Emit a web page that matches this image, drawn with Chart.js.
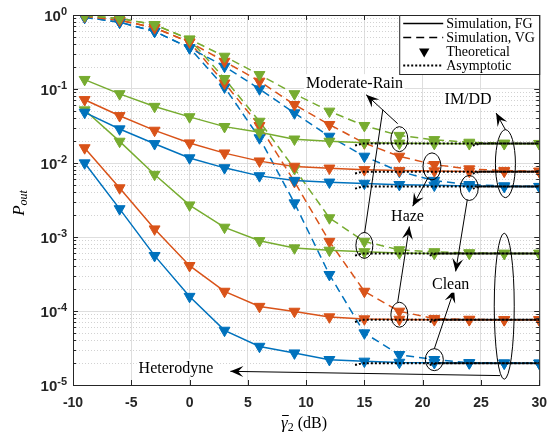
<!DOCTYPE html>
<html>
<head>
<meta charset="utf-8">
<script src="https://cdn.jsdelivr.net/npm/chart.js@4.4.0/dist/chart.umd.min.js"></script>
<style>
  html, body { margin: 0; padding: 0; background: #fff; }
  #wrap { width: 557px; height: 435px; }
</style>
</head>
<body>
<div id="wrap"><canvas id="chart" width="557" height="435"></canvas></div>
<script>
// average SNR of the second hop (dB)
const snr = [-9, -6, -3, 0, 3, 6, 9, 12, 15, 18, 21, 24, 27, 30];

// IM/DD, fixed gain (solid)
const imddFgClean = [0.0483, 0.0288, 0.0182, 0.0117, 0.0086, 0.0067, 0.0058, 0.0055, 0.0053, 0.0051, 0.0050, 0.0049, 0.0048, 0.0048];
const imddFgHaze  = [0.0716, 0.0435, 0.0276, 0.0186, 0.0136, 0.0106, 0.0090, 0.0085, 0.0081, 0.0079, 0.0078, 0.0077, 0.0077, 0.0077];
const imddFgRain  = [0.134, 0.086, 0.058, 0.042, 0.031, 0.026, 0.021, 0.0196, 0.0188, 0.0185, 0.0183, 0.0182, 0.0182, 0.0182];
// IM/DD, variable gain (dashed)
const imddVgClean = [0.93, 0.80, 0.60, 0.36, 0.202, 0.100, 0.0474, 0.0229, 0.0123, 0.0077, 0.0058, 0.0051, 0.0049, 0.0048];
const imddVgHaze  = [0.96, 0.85, 0.67, 0.43, 0.236, 0.127, 0.0614, 0.033, 0.0186, 0.0123, 0.0095, 0.0083, 0.0079, 0.0077];
const imddVgRain  = [0.98, 0.90, 0.74, 0.47, 0.276, 0.156, 0.086, 0.050, 0.032, 0.0235, 0.0206, 0.0190, 0.0185, 0.0183];
// heterodyne, fixed gain (solid)
const hetFgClean = [0.0100, 0.0024, 0.00056, 0.000157, 0.0000547, 0.0000332, 0.000027, 0.000022, 0.0000209, 0.0000202, 0.00002, 0.0000198, 0.0000197, 0.0000197];
const hetFgHaze  = [0.016, 0.0046, 0.00128, 0.00041, 0.000184, 0.000115, 0.0000988, 0.000083, 0.000078, 0.000077, 0.000076, 0.000076, 0.000076, 0.000076];
const hetFgRain  = [0.052, 0.0196, 0.0070, 0.0027, 0.00135, 0.00089, 0.00071, 0.00066, 0.00063, 0.00061, 0.0006, 0.0006, 0.0006, 0.0006];
// heterodyne, variable gain (dashed)
const hetVgClean = [0.93, 0.80, 0.60, 0.36, 0.106, 0.0218, 0.00288, 0.00031, 0.0000504, 0.0000257, 0.000022, 0.00002, 0.0000198, 0.0000197];
const hetVgHaze  = [0.96, 0.85, 0.67, 0.43, 0.120, 0.0319, 0.0056, 0.00087, 0.000184, 0.000099, 0.000079, 0.000077, 0.000076, 0.000076];
const hetVgRain  = [0.98, 0.90, 0.74, 0.47, 0.138, 0.0365, 0.0084, 0.00181, 0.00087, 0.00067, 0.00063, 0.00061, 0.0006, 0.0006];

// asymptotic curves (high SNR)
const asymFgX     = [14.2, 14.8, 30];
const asymImddVgX = [24.3, 24.9, 30];
const asymHetVgX  = [20.6, 21.2, 30];
const asymImddClean = [0.0045, 0.0048, 0.0048];
const asymImddHaze  = [0.0072, 0.0076, 0.0076];
const asymImddRain  = [0.0172, 0.0183, 0.0183];
const asymHetClean  = [0.0000186, 0.0000196, 0.0000196];
const asymHetHaze   = [0.000071, 0.000076, 0.000076];
const asymHetRain   = [0.00056, 0.0006, 0.0006];

const xTicks = [-10, -5, 0, 5, 10, 15, 20, 25, 30];
const yDecades = [-5, -4, -3, -2, -1, 0];

const BLUE = "#0072BD", ORANGE = "#D95319", GREEN = "#77AC30";
const AXIS = "#262626";

function pts(xs, ys) { return xs.map((x, i) => ({ x, y: ys[i] })); }

function simLine(data, color, dashed) {
  return {
    data: pts(snr, data), borderColor: color, backgroundColor: color,
    borderWidth: 1.5, borderDash: dashed ? [8, 5] : [], pointRadius: 0, order: 3
  };
}
function theory(data, color) {
  return {
    data: pts(snr, data), showLine: false, borderColor: color, backgroundColor: color,
    pointStyle: "triangle", rotation: 180, pointRadius: 6.3, pointBorderWidth: 1, order: 2
  };
}
function asym(xs, ys) {
  return {
    data: pts(xs, ys), borderColor: "#000", borderWidth: 2, borderDash: [2, 2],
    pointRadius: 0, order: 1
  };
}

const datasets = [
  asym(asymFgX, asymImddRain), asym(asymImddVgX, asymImddRain),
  asym(asymFgX, asymImddHaze), asym(asymImddVgX, asymImddHaze),
  asym(asymFgX, asymImddClean), asym(asymImddVgX, asymImddClean),
  asym(asymFgX, asymHetRain), asym(asymHetVgX, asymHetRain),
  asym(asymFgX, asymHetHaze), asym(asymHetVgX, asymHetHaze),
  asym(asymFgX, asymHetClean), asym(asymHetVgX, asymHetClean),

  theory(imddVgRain, GREEN), theory(imddFgRain, GREEN),
  theory(imddVgHaze, ORANGE), theory(imddFgHaze, ORANGE),
  theory(imddVgClean, BLUE), theory(imddFgClean, BLUE),
  theory(hetVgRain, GREEN), theory(hetFgRain, GREEN),
  theory(hetVgHaze, ORANGE), theory(hetFgHaze, ORANGE),
  theory(hetVgClean, BLUE), theory(hetFgClean, BLUE),

  simLine(imddFgRain, GREEN, false), simLine(imddVgRain, GREEN, true),
  simLine(imddFgHaze, ORANGE, false), simLine(imddVgHaze, ORANGE, true),
  simLine(imddFgClean, BLUE, false), simLine(imddVgClean, BLUE, true),
  simLine(hetFgRain, GREEN, false), simLine(hetVgRain, GREEN, true),
  simLine(hetFgHaze, ORANGE, false), simLine(hetVgHaze, ORANGE, true),
  simLine(hetFgClean, BLUE, false), simLine(hetVgClean, BLUE, true)
];

// ellipses [x, y, rx(px), ry(px)], text labels and arrows [tail x, tail y, head x, head y]
const ellipses = [
  [18, 0.021, 8.5, 12.5], [15, 0.00077, 8.5, 13],
  [20.8, 0.0090, 9, 13.5], [18, 0.000089, 8.5, 12.5],
  [24, 0.0046, 9, 12.5], [21, 0.000022, 9, 11],
  [27.1, 0.0098, 10, 34], [27, 0.000116, 10, 73]
];
const labels = [
  ["Moderate-Rain", 14.15, 0.12], ["IM/DD", 23.9, 0.073], ["Haze", 18.7, 0.00194],
  ["Clean", 22.4, 0.000234], ["Heterodyne", -1.17, 0.000017]
];
const arrows = [
  [17.86, 0.034, 15.15, 0.0837],
  [27.1, 0.0282, 26.3, 0.0474],
  [20.5, 0.0065, 19.14, 0.0026],
  [17.86, 0.000132, 18.86, 0.00139],
  [23.83, 0.00319, 22.83, 0.000343],
  [21, 0.0000309, 22.7, 0.000194],
  [26.65, 0.0000134, 3.5, 0.0000153]
];
const joins = [[15.02, 0.00114, 16.58, 0.0525]];

function drawArrowHead(ctx, x1, y1, x2, y2) {
  const a = Math.atan2(y2 - y1, x2 - x1), L = 13, W = 5.5;
  const c = Math.cos(a), s = Math.sin(a);
  ctx.beginPath();
  ctx.moveTo(x2, y2);
  ctx.lineTo(x2 - L * c + W * s, y2 - L * s - W * c);
  ctx.lineTo(x2 - 0.6 * L * c, y2 - 0.6 * L * s);
  ctx.lineTo(x2 - L * c - W * s, y2 - L * s + W * c);
  ctx.closePath();
  ctx.fill();
}

const decor = {
  id: "decor",
  beforeDatasetsDraw(chart) {
    const { ctx, chartArea: a, scales: { y } } = chart;
    ctx.save();
    ctx.strokeStyle = "#d2d2d2";
    ctx.lineWidth = 1;
    ctx.setLineDash([1, 2]);
    for (let k = -5; k < 0; k++) {
      for (let m = 2; m <= 9; m++) {
        const py = Math.round(y.getPixelForValue(m * Math.pow(10, k))) + 0.5;
        ctx.beginPath(); ctx.moveTo(a.left, py); ctx.lineTo(a.right, py); ctx.stroke();
      }
    }
    ctx.restore();
  },
  afterDatasetsDraw(chart) {
    const { ctx, chartArea: a, scales: { x, y } } = chart;
    ctx.save();
    // box and inner ticks
    ctx.strokeStyle = AXIS;
    ctx.lineWidth = 1;
    ctx.strokeRect(a.left + 0.5, a.top + 0.5, a.right - a.left, a.bottom - a.top);
    ctx.beginPath();
    xTicks.forEach(v => {
      const px = Math.round(x.getPixelForValue(v)) + 0.5;
      ctx.moveTo(px, a.bottom); ctx.lineTo(px, a.bottom - 5);
      ctx.moveTo(px, a.top); ctx.lineTo(px, a.top + 5);
    });
    for (let k = -5; k <= 0; k++) {
      for (let m = 1; m <= 9; m++) {
        if (k === 0 && m > 1) break;
        const py = Math.round(y.getPixelForValue(m * Math.pow(10, k))) + 0.5;
        const len = m === 1 ? 5 : 3;
        ctx.moveTo(a.left, py); ctx.lineTo(a.left + len, py);
        ctx.moveTo(a.right, py); ctx.lineTo(a.right - len, py);
      }
    }
    ctx.stroke();

    // y tick labels 10^k
    ctx.fillStyle = AXIS;
    ctx.textBaseline = "middle";
    ctx.textAlign = "right";
    yDecades.forEach(k => {
      const py = y.getPixelForValue(Math.pow(10, k));
      ctx.font = "bold 11px 'Liberation Sans', Arial, sans-serif";
      const sup = String(k);
      const sw = ctx.measureText(sup).width;
      ctx.fillText(sup, a.left - 6, py - 3);
      ctx.font = "bold 15px 'Liberation Sans', Arial, sans-serif";
      ctx.fillText("10", a.left - 6 - sw, py + 2);
    });

    // axis titles
    ctx.fillStyle = "#000";
    ctx.textAlign = "left";
    ctx.textBaseline = "alphabetic";
    const f1 = "italic 17px 'Liberation Serif', serif";
    const f2 = "12px 'Liberation Serif', serif";
    const f3 = "16px 'Liberation Serif', serif";
    ctx.font = f1; const wg = ctx.measureText("\u03B3").width;
    ctx.font = f2; const w2 = ctx.measureText("2").width;
    ctx.font = f3; const wd = ctx.measureText(" (dB)").width;
    let sx = (a.left + a.right) / 2 - 2 - (wg + w2 + wd) / 2;
    const by = 428;
    ctx.font = f1; ctx.fillText("\u03B3", sx, by);
    ctx.beginPath(); ctx.lineWidth = 1; ctx.strokeStyle = "#000";
    ctx.moveTo(sx + 1, by - 12.5); ctx.lineTo(sx + wg + 1, by - 12.5); ctx.stroke();
    ctx.font = f2; ctx.fillText("2", sx + wg, by + 3);
    ctx.font = f3; ctx.fillText(" (dB)", sx + wg + w2, by);

    ctx.save();
    ctx.translate(24, (a.top + a.bottom) / 2 + 3);
    ctx.rotate(-Math.PI / 2);
    ctx.font = "italic 17px 'Liberation Serif', serif";
    const wp = ctx.measureText("P").width;
    ctx.font = "italic 12px 'Liberation Serif', serif";
    const wo = ctx.measureText("out").width;
    ctx.font = "italic 17px 'Liberation Serif', serif";
    ctx.fillText("P", -(wp + wo) / 2, 0);
    ctx.font = "italic 12px 'Liberation Serif', serif";
    ctx.fillText("out", -(wp + wo) / 2 + wp, 3);
    ctx.restore();

    // annotations
    ctx.strokeStyle = "#000";
    ctx.fillStyle = "#000";
    ctx.lineWidth = 1;
    ellipses.forEach(([ex, ey, rx, ry]) => {
      ctx.beginPath();
      ctx.ellipse(x.getPixelForValue(ex), y.getPixelForValue(ey), rx, ry, 0, 0, Math.PI * 2);
      ctx.stroke();
    });
    arrows.concat(joins).forEach(([x1, y1, x2, y2], i) => {
      const p1 = [x.getPixelForValue(x1), y.getPixelForValue(y1)];
      const p2 = [x.getPixelForValue(x2), y.getPixelForValue(y2)];
      ctx.beginPath(); ctx.moveTo(p1[0], p1[1]); ctx.lineTo(p2[0], p2[1]); ctx.stroke();
      if (i < arrows.length) drawArrowHead(ctx, p1[0], p1[1], p2[0], p2[1]);
    });
    ctx.font = "16px 'Liberation Serif', serif";
    ctx.textAlign = "center";
    ctx.textBaseline = "middle";
    labels.forEach(([t, lx, ly]) => {
      const px = x.getPixelForValue(lx), py = y.getPixelForValue(ly);
      const w = ctx.measureText(t).width;
      ctx.fillStyle = "#fff";
      ctx.fillRect(px - w / 2 - 2, py - 9, w + 4, 18);
      ctx.fillStyle = "#000";
      ctx.fillText(t, px, py + 1);
    });

    // legend
    const lw = 140, lh = 59, lx0 = a.right - lw, ly0 = a.top;
    ctx.fillStyle = "#fff";
    ctx.fillRect(lx0, ly0, lw, lh);
    ctx.strokeStyle = AXIS;
    ctx.strokeRect(lx0 + 0.5, ly0 + 0.5, lw, lh);
    const items = [
      ["Simulation, FG", "solid"], ["Simulation, VG", "dash"],
      ["Theoretical", "marker"], ["Asymptotic", "dot"]
    ];
    ctx.font = "14px 'Liberation Serif', serif";
    ctx.textAlign = "left";
    items.forEach(([t, kind], i) => {
      const iy = ly0 + 8.5 + i * 14;
      ctx.strokeStyle = "#000";
      ctx.fillStyle = "#000";
      if (kind === "marker") {
        const cx = lx0 + 25, r = 6;
        ctx.beginPath();
        ctx.moveTo(cx, iy + r);
        ctx.lineTo(cx - r * 0.866, iy - r / 2);
        ctx.lineTo(cx + r * 0.866, iy - r / 2);
        ctx.closePath(); ctx.fill();
      } else {
        ctx.beginPath();
        ctx.lineWidth = kind === "dot" ? 2 : 1.5;
        ctx.setLineDash(kind === "dash" ? [8, 5] : kind === "dot" ? [2, 2] : []);
        ctx.moveTo(lx0 + 4, iy); ctx.lineTo(lx0 + 44, iy); ctx.stroke();
        ctx.setLineDash([]);
      }
      ctx.fillText(t, lx0 + 47, iy + 1);
    });
    ctx.restore();
  }
};

new Chart(document.getElementById("chart").getContext("2d"), {
  type: "line",
  data: { datasets },
  options: {
    responsive: false,
    animation: false,
    devicePixelRatio: 1,
    layout: { padding: { top: 15, right: 15, left: 0, bottom: 0 } },
    plugins: { legend: { display: false }, tooltip: { enabled: false } },
    scales: {
      x: {
        type: "linear", min: -10, max: 30,
        afterBuildTicks: s => { s.ticks = xTicks.map(v => ({ value: v })); },
        afterFit: s => { s.height = 50; },
        ticks: {
          color: AXIS, padding: 10,
          font: { family: "'Liberation Sans', Arial, sans-serif", weight: "bold", size: 14 }
        },
        grid: { color: "#dedede", drawTicks: false },
        border: { display: false }
      },
      y: {
        type: "logarithmic", min: 1e-5, max: 1,
        afterBuildTicks: s => { s.ticks = yDecades.map(k => ({ value: Math.pow(10, k) })); },
        afterFit: s => { s.width = 73; },
        ticks: { display: false },
        grid: { color: "#dedede", drawTicks: false },
        border: { display: false }
      }
    }
  },
  plugins: [decor]
});
</script>
</body>
</html>
